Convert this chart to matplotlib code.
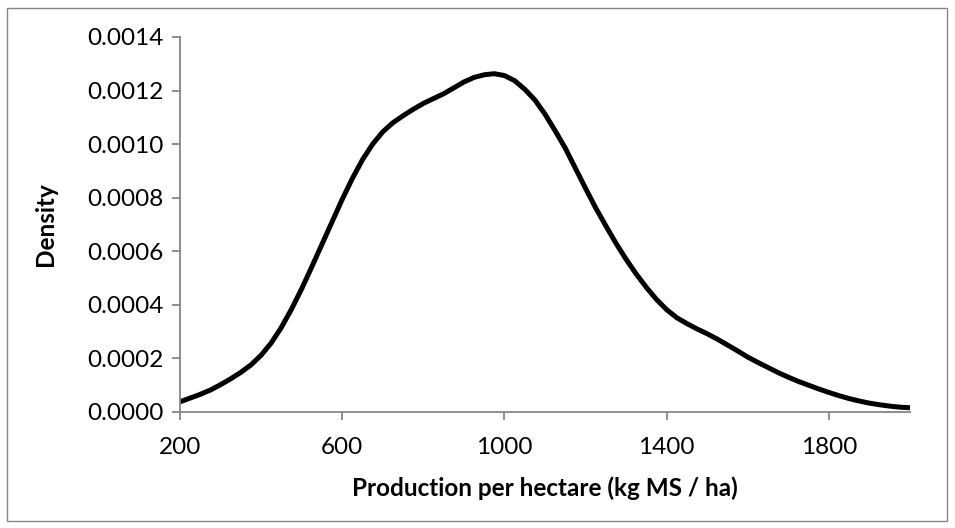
import matplotlib
matplotlib.use("Agg")
import matplotlib.pyplot as plt
from matplotlib.patches import Rectangle

# Data
production = [200, 225, 250, 275, 300, 325, 350, 375, 400, 425, 450, 475, 500, 525,
              550, 575, 600, 625, 650, 675, 700, 725, 750, 775, 800, 825, 850, 875,
              900, 925, 950, 975, 1000, 1025, 1050, 1075, 1100, 1125, 1150, 1175,
              1200, 1225, 1250, 1275, 1300, 1325, 1350, 1375, 1400, 1425, 1450, 1475,
              1500, 1525, 1550, 1575, 1600, 1625, 1650, 1675, 1700, 1725, 1750, 1775,
              1800, 1825, 1850, 1875, 1900, 1925, 1950, 1975, 2000]
density = [0.000038, 0.000052, 0.000066, 0.000082, 0.000102, 0.000124, 0.000148,
           0.000176, 0.000212, 0.000258, 0.000316, 0.000384, 0.000460, 0.000542,
           0.000626, 0.000710, 0.000794, 0.000872, 0.000942, 0.001000, 0.001046,
           0.001080, 0.001106, 0.001130, 0.001152, 0.001170, 0.001188, 0.001210,
           0.001232, 0.001249, 0.001259, 0.001263, 0.001256, 0.001237, 0.001205,
           0.001165, 0.001112, 0.001050, 0.000985, 0.000910, 0.000835, 0.000762,
           0.000695, 0.000630, 0.000570, 0.000515, 0.000465, 0.000420, 0.000382,
           0.000352, 0.000330, 0.000310, 0.000292, 0.000272, 0.000250, 0.000228,
           0.000205, 0.000185, 0.000166, 0.000147, 0.000130, 0.000114, 0.000100,
           0.000086, 0.000073, 0.000061, 0.000050, 0.000041, 0.000033, 0.000027,
           0.000022, 0.000018, 0.000016]
x_ticks = [200, 600, 1000, 1400, 1800]
y_ticks = [0.0000, 0.0002, 0.0004, 0.0006, 0.0008, 0.0010, 0.0012, 0.0014]

plt.rcParams['font.family'] = ['Lato', 'DejaVu Sans']

fig = plt.figure(figsize=(9.55, 5.28), dpi=100)
ax = fig.add_axes([180/955, 1-412/528, 730/955, 375/528])

ax.plot(production, density, color='black', lw=3.6, solid_capstyle='butt',
        solid_joinstyle='round', clip_on=False)

ax.set_xlim(200, 2000)
ax.set_ylim(0, 0.0014)
ax.set_xticks(x_ticks)
ax.set_xticklabels([str(v) for v in x_ticks])
ax.set_yticks(y_ticks)
ax.set_yticklabels([f"{v:.4f}" for v in y_ticks])

grey = '#868686'
for s in ['top', 'right']:
    ax.spines[s].set_visible(False)
for s in ['left', 'bottom']:
    ax.spines[s].set_color(grey)
    ax.spines[s].set_linewidth(1.3)
ax.tick_params(axis='both', direction='out', length=6, width=1.3, color=grey,
               labelsize=17.5, labelcolor='black')
ax.tick_params(axis='x', pad=12)
ax.tick_params(axis='y', pad=6)

ax.set_xlabel('Production per hectare (kg MS / ha)', fontsize=17.5, fontweight='bold',
              va='center')
ax.set_ylabel('Density', fontsize=17.5, fontweight='bold', va='center')
ax.xaxis.set_label_coords(0.5, (412 - 488) / 375)
ax.yaxis.set_label_coords((45 - 180) / 730, 0.5)

fig.patches.append(Rectangle((7/955, 7/528), 940/955, 513/528, transform=fig.transFigure,
                             fill=False, edgecolor=grey, lw=1.0))

fig.savefig('out.png', dpi=100)
